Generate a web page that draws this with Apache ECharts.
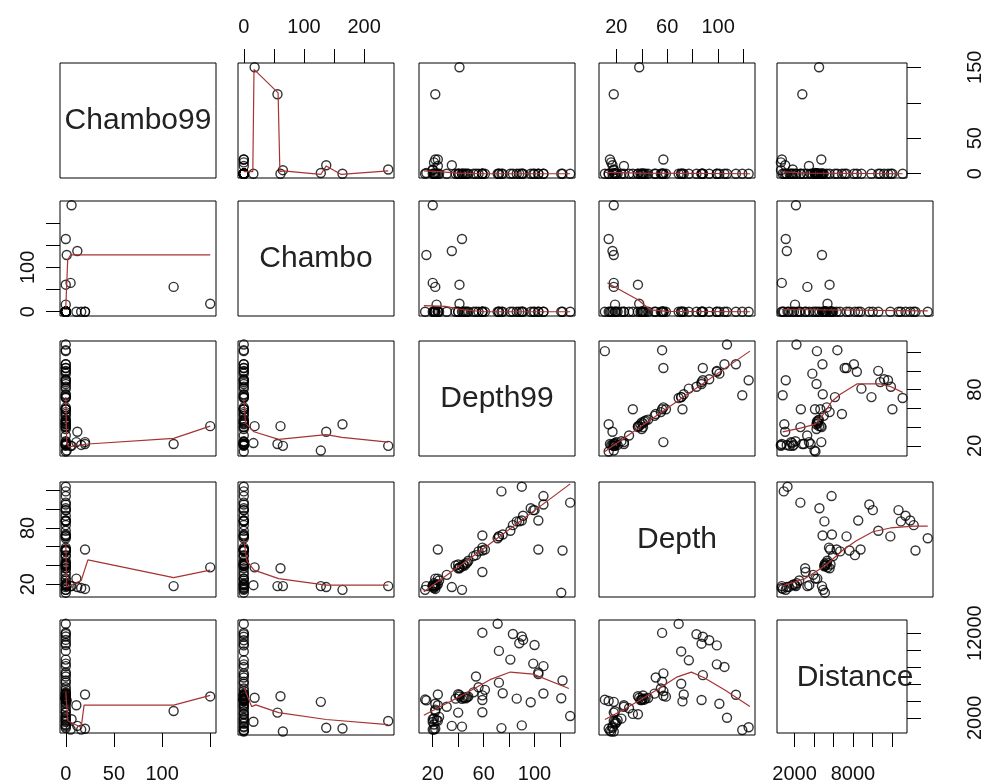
<!DOCTYPE html>
<html>
<head>
<meta charset="utf-8">
<script src="https://cdn.jsdelivr.net/npm/echarts@6/dist/echarts.min.js"></script>
<style>html,body{margin:0;padding:0;background:#fff}#chart{width:985px;height:784px}</style>
</head>
<body>
<div id="chart"></div>
<script>
// variables of the pairs plot (one entry per station)
var distance = [1820, 950, 1040, 4050, 610, 2800, 4700, 4520, 1740, 4750, 600, 700, 3480, 1100, 780, 2200, 4870, 3830, 4260, 4100,
                4900, 6150, 7150, 7350, 8100, 8400, 10600, 11200, 11600, 11900, 10800, 8870, 9900, 13100, 12050, 6400, 4300, 4650, 5300, 6870,
                5600, 2650, 4300, 4350, 4400, 4250, 4450, 2610, 3650, 2960, 4260, 4780, 1200, 1650, 1910, 2100, 4150, 3300, 1500, 4500, 5000];
var depth    = [18, 14, 17, 18, 18, 18, 37, 38, 19, 57, 16, 15, 26, 124, 119, 107, 114, 101, 87, 72,
                73, 71, 88, 57, 105, 99, 99, 93, 88, 83, 87, 77, 71, 69, 56, 56, 11, 59, 57, 51,
                55, 33, 42, 40, 41, 39, 43, 37, 26, 19, 40, 41, 17, 20, 21, 24, 14, 30, 19, 45, 50];
var depth99  = [20, 43, 35, 15, 20, 22, 41, 41, 23, 24, 21, 22, 24, 90, 74, 128, 107, 97, 86, 59,
                75, 72, 103, 103, 107, 99, 100, 91, 90, 83, 88, 81, 72, 71, 59, 122, 121, 59, 61, 54,
                56, 59, 46, 45, 44, 43, 47, 40, 22, 22, 38, 40, 21, 24, 21, 25, 14, 31, 20, 48, 52];
var chambo   = [240, 164, 137, 128, 65, 56, 61, 18, 16, 0, 0, 0, 0, 0, 0, 0, 0, 0, 0, 0,
                0, 0, 0, 0, 0, 0, 0, 0, 0, 0, 0, 0, 0, 0, 0, 0, 0, 0, 0, 0,
                0, 0, 0, 0, 0, 0, 0, 0, 0, 0, 0, 0, 0, 0, 0, 0, 0, 0, 0, 0, 0];
var chambo99 = [6, 0, 12, 1, 5, 112, 0, 150, 0, 20, 16, 20, 11, 0, 0, 0, 0, 0, 0, 0,
                0, 0, 0, 0, 0, 0, 0, 0, 0, 0, 0, 0, 0, 0, 0, 0, 0, 0, 0, 0,
                0, 0, 0, 0, 0, 0, 0, 0, 0, 0, 0, 0, 0, 0, 0, 0, 0, 0, 0, 0, 0];

var names = ['Chambo99', 'Chambo', 'Depth99', 'Depth', 'Distance'];

// tick marks and the labels R kept
var c99Ticks = [0, 50, 100, 150];
var chTicks = [0, 50, 100, 150, 200];
var d99Ticks = [20, 40, 60, 80, 100, 120];
var dTicks = [20, 40, 60, 80, 100, 120];
var distTicks = [2000, 4000, 6000, 8000, 10000, 12000];

var topLabels = {1: [0, 100, 200], 3: [20, 60, 100]};
var bottomLabels = {0: [0, 50, 100], 2: [20, 60, 100], 4: [2000, 8000]};
var leftLabels = {1: [0, 100], 3: [20, 80]};
var rightLabels = {0: [0, 50, 150], 2: [20, 80], 4: [2000, 12000]};

// lowess smooths (row_col, x = column var, y = row var)
var lowess_1_2 = [[0,3],[15,3],[17,147],[57,114],[60,3],[65,4],[128,-1],[137,11],[162,-1],[240,4]];
var lowess_1_3 = [[13,4],[25,3],[40,1],[60,0],[128,0]];
var lowess_1_4 = [[11,2],[40,1],[125,0]];
var lowess_1_5 = [[600,3],[3000,1],[13100,0]];
var lowess_2_1 = [[0,9],[2,117],[5,128],[150,128]];
var lowess_2_3 = [[13,14],[30,12],[45,4],[60,0],[128,0]];
var lowess_2_4 = [[13,65],[37,27],[47,4],[60,1],[125,0]];
var lowess_2_5 = [[600,5],[13100,2]];
var lowess_3_1 = [[0,72],[1,23],[3,19],[23,22],[112,28],[150,41]];
var lowess_3_2 = [[0,70],[3,44],[17,35],[58,27],[137,32],[163,29],[240,24]];
var lowess_3_4 = [[11,14],[60,60],[125,121]];
var lowess_3_5 = [[780,35],[2600,39],[4100,43],[4800,51],[5800,67],[6700,75],[8400,86],[10800,86],[11900,83],[13100,77]];
var lowess_4_1 = [[0,62],[1,17],[3,16],[16,24],[23,46],[112,27],[150,35]];
var lowess_4_2 = [[0,68],[5,45],[17,35],[58,26],[137,19],[240,19]];
var lowess_4_3 = [[13,12],[60,58],[128,127]];
var lowess_4_5 = [[610,18],[2600,26],[4350,40],[5800,56],[6950,66],[8400,76],[9900,80],[11900,82],[13100,82]];
var lowess_5_1 = [[0,5100],[2,1650],[16,850],[19,3500],[112,3500],[150,4650]];
var lowess_5_2 = [[0,5800],[13,3500],[20,3700],[58,2800],[137,2000],[240,1400]];
var lowess_5_3 = [[13,2300],[45,4800],[65,6500],[81,7400],[99,7150],[127,5450]];
var lowess_5_4 = [[11,2000],[26,3150],[39,4300],[52,5450],[68,6950],[79,7500],[89,6850],[105,5450],[125,3500]];

var vars = [chambo99, chambo, depth99, depth, distance];
var ticks = [c99Ticks, chTicks, d99Ticks, dTicks, distTicks];
var ranges = [[-6, 156], [-9.6, 249.6], [9.2, 131.8], [6.4, 129], [200, 13550]];
var smooths = [
    [null, lowess_1_2, lowess_1_3, lowess_1_4, lowess_1_5],
    [lowess_2_1, null, lowess_2_3, lowess_2_4, lowess_2_5],
    [lowess_3_1, lowess_3_2, null, lowess_3_4, lowess_3_5],
    [lowess_4_1, lowess_4_2, lowess_4_3, null, lowess_4_5],
    [lowess_5_1, lowess_5_2, lowess_5_3, lowess_5_4, null]
];

var panelLeft = [60, 238, 419, 599, 777];
var panelTop = [63, 201, 341, 482, 620];
var panelW = 156, panelH = 115;
var font = 'Liberation Sans, Arial, sans-serif';
var labelMargin = {top: 26, bottom: 31, left: 22, right: 58};

function makeAxis(dim, gi, v, side, labels) {
    var ax = {
        type: 'value', gridIndex: gi, min: ranges[v][0], max: ranges[v][1],
        splitLine: {show: false},
        axisLine: {show: false, onZero: false},
        axisTick: {show: false},
        axisLabel: {show: false}
    };
    if (side) {
        ax.position = side;
        ax.axisTick = {show: true, customValues: ticks[v], length: 14, lineStyle: {color: '#000', width: 1}};
        ax.axisLabel = {
            show: true, customValues: labels, color: '#111', fontSize: 20, fontFamily: font,
            margin: labelMargin[side], rotate: dim === 'y' ? 90 : 0,
            formatter: function (val) { return String(val); }
        };
    }
    return ax;
}

var grids = [], xAxes = [], yAxes = [], series = [], texts = [];
for (var i = 0; i < 5; i++) {
    for (var j = 0; j < 5; j++) {
        var gi = grids.length;
        grids.push({
            left: panelLeft[j], top: panelTop[i], width: panelW, height: panelH,
            show: true, borderColor: '#000', borderWidth: 1, backgroundColor: 'transparent'
        });
        var xs = null, xl = null, ys = null, yl = null;
        if (i === 0 && topLabels[j]) { xs = 'top'; xl = topLabels[j]; }
        if (i === 4 && bottomLabels[j]) { xs = 'bottom'; xl = bottomLabels[j]; }
        if (j === 0 && leftLabels[i]) { ys = 'left'; yl = leftLabels[i]; }
        if (j === 4 && rightLabels[i]) { ys = 'right'; yl = rightLabels[i]; }
        xAxes.push(makeAxis('x', gi, j, xs, xl));
        yAxes.push(makeAxis('y', gi, i, ys, yl));

        if (i === j) {
            texts.push({
                type: 'text', x: panelLeft[j] + panelW / 2, y: panelTop[i] + panelH / 2,
                style: {text: names[i], fontSize: 30, fontFamily: font, fill: '#222', align: 'center', verticalAlign: 'middle'}
            });
            continue;
        }
        var xv = vars[j], yv = vars[i];
        var pts = xv.map(function (v, k) { return [v, yv[k]]; });
        series.push({
            type: 'scatter', xAxisIndex: gi, yAxisIndex: gi, data: pts, symbol: 'circle', symbolSize: 9,
            clip: true, silent: true,
            itemStyle: {color: 'rgba(255,255,255,0)', borderColor: '#000', borderWidth: 1.4}
        });
        series.push({
            type: 'line', xAxisIndex: gi, yAxisIndex: gi, data: smooths[i][j], showSymbol: false,
            clip: true, silent: true, z: 3,
            lineStyle: {color: '#a83232', width: 1.2}
        });
    }
}

var chart = echarts.init(document.getElementById('chart'));
chart.setOption({
    animation: false,
    backgroundColor: '#fff',
    grid: grids,
    xAxis: xAxes,
    yAxis: yAxes,
    series: series,
    graphic: texts
});
window.onresize = chart.resize;
</script>
</body>
</html>
